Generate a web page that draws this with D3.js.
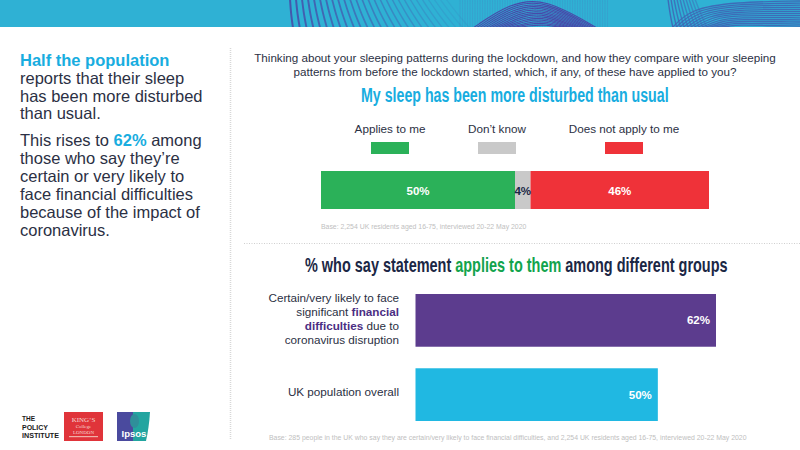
<!DOCTYPE html>
<html>
<head>
<meta charset="utf-8">
<script src="https://cdnjs.cloudflare.com/ajax/libs/d3/7.8.5/d3.min.js"></script>
<style>
  html, body { margin: 0; padding: 0; background: #fff; }
  text { font-family: "Liberation Sans", Arial, sans-serif; }
</style>
</head>
<body>
<div id="chart"></div>
<script>
// stacked bar data
var stackLabels = ["Applies to me", "Don\u2019t know", "Does not apply to me"];
var stackValues = [50, 4, 46];
var stackColors = ["#2bb159", "#c9c9c9", "#ef3239"];

// group bar data
var groupKeys = ["financial", "overall"];
var groupValues = [62, 50];
var groupColors = ["#5c3c8e", "#20b8e2"];

var navy = "#1b2745";
var textGrey = "#2b3044";
var blue = "#18ade0";
var green = "#12a44d";
var purple = "#4b2e83";

var svg = d3.select("#chart")
  .append("svg")
  .attr("width", 800)
  .attr("height", 450)
  .style("display", "block");

// no condensed font installed, so squeeze bold text to the width it has in the picture
function squeeze(sel, x, y, targetWidth) {
  var w = sel.node().getComputedTextLength();
  sel.attr("transform", `translate(${x}, ${y}) scale(${targetWidth / w}, 1)`);
}

// banner
svg.append("clipPath").attr("id", "bannerClip")
  .append("rect").attr("width", 800).attr("height", 27);

svg.append("rect")
  .attr("width", 800)
  .attr("height", 27)
  .attr("fill", "#2fb1d4");

var banner = svg.append("g").attr("clip-path", "url(#bannerClip)");
var bannerLine = d3.line().curve(d3.curveBasis);

function bannerPath(points, color, width, opacity) {
  banner.append("path")
    .attr("d", bannerLine(points))
    .attr("fill", "none")
    .attr("stroke", color)
    .attr("stroke-width", width)
    .attr("opacity", opacity);
}

// left block of slanted lines, fading to the right
d3.range(0, 27).forEach(function(i) {
  var top = 290 + i * 6;
  bannerPath([[top, -1], [top, -1], [top + 1 + i * 0.4, 14], [top + 3 + i * 0.8, 28], [top + 3 + i * 0.8, 28]],
    "#4458ad", 2 - i * 0.03, Math.max(0.12, 1 - i * 0.035));
});

// fine vertical lines behind the dome
d3.range(0, 60).forEach(function(i) {
  bannerPath([[460 + i * 2.5, -1], [460 + i * 2.5, -1], [460 + i * 2.5, 28], [460 + i * 2.5, 28]], "#4a7fc0", 0.8, 0.35);
});

// middle dome
d3.range(0, 15).forEach(function(i) {
  bannerPath([[473 + i * 3, 28], [473 + i * 3, 28], [510 + i * 1.5, 3 + i * 1.6], [545, -2 + i * 1.9], [597 - i * 2.4, 28], [597 - i * 2.4, 28]],
    "#4a3fa5", 1.1, 0.9);
});

// right waves, steep lines at the left edge
d3.range(0, 10).forEach(function(i) {
  bannerPath([[668 + i * 3, -1], [668 + i * 3, -1], [670 + i * 3.4, 14], [673 + i * 3.8, 28], [673 + i * 3.8, 28]], "#3f65b5", 1.4, 0.9 - i * 0.05);
});
d3.range(0, 13).forEach(function(i) {
  bannerPath([[672 + i * 3.5, 28], [672 + i * 3.5, 28], [690 + i * 3.5, 9 + i * 1.4], [735, 2 + i * 1.9], [800, 1 + i * 2.1], [800, 1 + i * 2.1]],
    "#3f65b5", 1.3, 0.9);
});

// left column text
var leftLines = [
  ["reports that their sleep", 84],
  ["has been more disturbed", 102],
  ["than usual.", 119],
  ["those who say they\u2019re", 164],
  ["certain or very likely to", 182],
  ["face financial difficulties", 200],
  ["because of the impact of", 218],
  ["coronavirus.", 236]
];
svg.append("text")
  .attr("x", 20).attr("y", 66)
  .attr("font-size", 16.5)
  .attr("font-weight", 700)
  .attr("fill", blue)
  .text("Half the population");
leftLines.forEach(function(d) {
  svg.append("text")
    .attr("x", 20).attr("y", d[1])
    .attr("font-size", 16.5)
    .attr("fill", textGrey)
    .text(d[0]);
});

var rise = svg.append("text").attr("x", 20).attr("y", 146).attr("font-size", 16.5).attr("fill", textGrey);
rise.append("tspan").text("This rises to ");
rise.append("tspan").attr("font-weight", 700).attr("fill", blue).text("62%");
rise.append("tspan").text(" among");

// dotted dividers
svg.append("line")
  .attr("x1", 230.5).attr("x2", 230.5).attr("y1", 48).attr("y2", 440)
  .attr("stroke", "#d8d8d8").attr("stroke-width", 1.5).attr("stroke-dasharray", "1 1");
svg.append("line")
  .attr("x1", 244).attr("x2", 800).attr("y1", 243.5).attr("y2", 243.5)
  .attr("stroke", "#cfcfcf").attr("stroke-dasharray", "1 1.5");

// question
["Thinking about your sleeping patterns during the lockdown, and how they compare with your sleeping",
 "patterns from before the lockdown started, which, if any, of these have applied to you?"]
  .forEach(function(t, i) {
    svg.append("text")
      .attr("x", 515).attr("y", 62 + i * 14)
      .attr("text-anchor", "middle")
      .attr("font-size", 11.65)
      .attr("fill", textGrey)
      .text(t);
  });

var title1 = svg.append("text")
  .attr("font-size", 20)
  .attr("font-weight", 700)
  .attr("fill", blue)
  .text("My sleep has been more disturbed than usual");
squeeze(title1, 361, 102, 308);

// stacked bar
var stackX = d3.scaleLinear().domain([0, d3.sum(stackValues)]).range([321, 709]);
var offsets = [0].concat(Array.from(d3.cumsum(stackValues)));
var swatchCenters = [390, 497, 624];

stackLabels.forEach(function(label, i) {
  svg.append("text")
    .attr("x", swatchCenters[i]).attr("y", 133)
    .attr("text-anchor", "middle")
    .attr("font-size", 11.7)
    .attr("fill", textGrey)
    .text(label);
  svg.append("rect")
    .attr("x", swatchCenters[i] - 19).attr("y", 142)
    .attr("width", 38).attr("height", 12)
    .attr("fill", stackColors[i]);
});

svg.selectAll(".seg")
  .data(stackValues)
  .enter()
  .append("rect")
  .attr("class", "seg")
  .attr("x", (d, i) => stackX(offsets[i]))
  .attr("y", 171)
  .attr("width", d => stackX(d) - stackX(0))
  .attr("height", 38)
  .attr("fill", (d, i) => stackColors[i]);

svg.selectAll(".segLabel")
  .data(stackValues)
  .enter()
  .append("text")
  .attr("class", "segLabel")
  .attr("x", (d, i) => stackX(offsets[i] + d / 2))
  .attr("y", 194.5)
  .attr("text-anchor", "middle")
  .attr("font-size", 11.5)
  .attr("font-weight", 700)
  .attr("fill", (d, i) => i === 1 ? navy : "#fff")
  .text(d => d + "%");

svg.append("text")
  .attr("x", 321).attr("y", 229)
  .attr("font-size", 6.9)
  .attr("fill", "#c0c0c0")
  .text("Base: 2,254 UK residents aged 16-75, interviewed 20-22 May 2020");

// second title
var title2 = svg.append("text")
  .attr("font-size", 20)
  .attr("font-weight", 700)
  .attr("fill", navy);
title2.append("tspan").text("% who say statement ");
title2.append("tspan").attr("fill", green).text("applies to them");
title2.append("tspan").text(" among different groups");
squeeze(title2, 305, 272, 423);

// group bars
var groupX = d3.scaleLinear().domain([0, 62]).range([415.5, 716]);
var groupY = d3.scaleBand().domain(groupKeys).range([294, 421]).paddingInner(0.29);

svg.selectAll(".bar")
  .data(groupValues)
  .enter()
  .append("rect")
  .attr("class", "bar")
  .attr("x", groupX(0))
  .attr("y", (d, i) => groupY(groupKeys[i]))
  .attr("width", d => groupX(d) - groupX(0))
  .attr("height", groupY.bandwidth())
  .attr("fill", (d, i) => groupColors[i]);

svg.selectAll(".barLabel")
  .data(groupValues)
  .enter()
  .append("text")
  .attr("class", "barLabel")
  .attr("x", d => groupX(d) - 6)
  .attr("y", (d, i) => groupY(groupKeys[i]) + groupY.bandwidth() / 2 + 4)
  .attr("text-anchor", "end")
  .attr("font-size", 11.5)
  .attr("font-weight", 700)
  .attr("fill", "#fff")
  .text(d => d + "%");

// group labels
var catLines = [
  [{ t: "Certain/very likely to face" }],
  [{ t: "significant " }, { t: "financial", b: true }],
  [{ t: "difficulties", b: true }, { t: " due to" }],
  [{ t: "coronavirus disruption" }]
];
catLines.forEach(function(parts, i) {
  var line = svg.append("text")
    .attr("x", 399).attr("y", 302 + i * 14)
    .attr("text-anchor", "end")
    .attr("font-size", 11.7)
    .attr("fill", textGrey);
  parts.forEach(function(p) {
    line.append("tspan")
      .attr("font-weight", p.b ? 700 : 400)
      .attr("fill", p.b ? purple : textGrey)
      .text(p.t);
  });
});
svg.append("text")
  .attr("x", 399).attr("y", 396)
  .attr("text-anchor", "end")
  .attr("font-size", 11.7)
  .attr("fill", textGrey)
  .text("UK population overall");

svg.append("text")
  .attr("x", 269).attr("y", 440)
  .attr("font-size", 6.9)
  .attr("fill", "#c0c0c0")
  .text("Base: 285 people in the UK who say they are certain/very likely to face financial difficulties, and 2,254 UK residents aged 16-75, interviewed 20-22 May 2020");

// logos
[["THE", 13], ["POLICY", 26], ["INSTITUTE", 37]].forEach(function(d, i) {
  var t = svg.append("text")
    .attr("font-size", 7.4)
    .attr("font-weight", 700)
    .attr("fill", "#1a1a1a")
    .text(d[0]);
  squeeze(t, 22, 421 + i * 8.5, d[1]);
});

svg.append("rect").attr("x", 64).attr("y", 412).attr("width", 39).attr("height", 29).attr("fill", "#e0343a");
[["KING\u2019S", 422, 7], ["College", 428, 5], ["LONDON", 434, 5]].forEach(function(d) {
  svg.append("text")
    .attr("x", 83.5).attr("y", d[1])
    .attr("text-anchor", "middle")
    .style("font-family", "'Liberation Serif', serif")
    .attr("font-size", d[2])
    .attr("fill", "#f6d9d4")
    .text(d[0]);
});
svg.append("rect").attr("x", 69).attr("y", 436).attr("width", 29).attr("height", 1.2).attr("fill", "#f0b0a8");

svg.append("rect").attr("x", 117).attr("y", 412).attr("width", 16).attr("height", 29).attr("fill", "#4a4a9e");
svg.append("path")
  .attr("d", "M133,412H150Q149,428 146,441H133Z")
  .attr("fill", "#22a5a0");
svg.append("ellipse").attr("cx", 134.5).attr("cy", 421).attr("rx", 4.5).attr("ry", 7).attr("fill", "#2f8f9a");
svg.append("text")
  .attr("x", 134).attr("y", 437)
  .attr("text-anchor", "middle")
  .attr("font-size", 9.5)
  .attr("font-weight", 700)
  .attr("fill", "#fff")
  .text("Ipsos");
</script>
</body>
</html>
